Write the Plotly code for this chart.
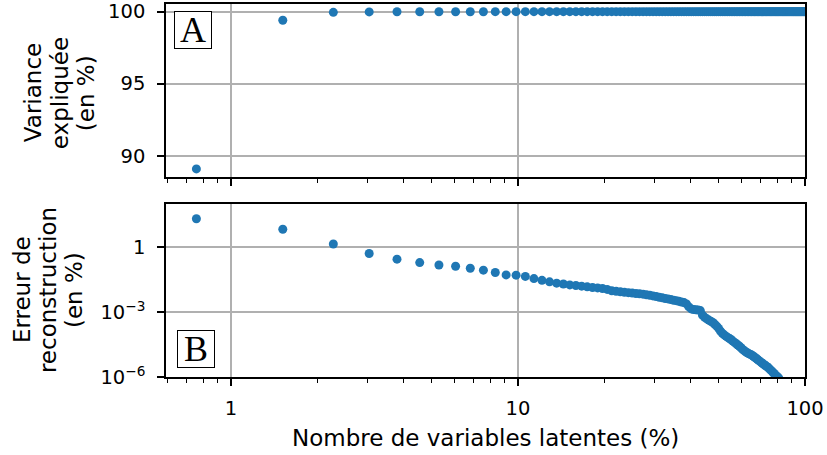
import plotly.graph_objects as go
from plotly.subplots import make_subplots

# ---- data ----
n_total = 132
n_latent = list(range(1, 133))  # number of latent variables kept

variance_pct = [
    89.08, 99.40, 99.95, 99.98, 99.99, 99.99, 99.99, 99.99, 99.99, 99.99,
    100.0, 100.0, 100.0, 100.0, 100.0, 100.0, 100.0, 100.0, 100.0, 100.0,
    100.0, 100.0, 100.0, 100.0, 100.0, 100.0, 100.0, 100.0, 100.0, 100.0,
    100.0, 100.0, 100.0, 100.0, 100.0, 100.0, 100.0, 100.0, 100.0, 100.0,
    100.0, 100.0, 100.0, 100.0, 100.0, 100.0, 100.0, 100.0, 100.0, 100.0,
    100.0, 100.0, 100.0, 100.0, 100.0, 100.0, 100.0, 100.0, 100.0, 100.0,
    100.0, 100.0, 100.0, 100.0, 100.0, 100.0, 100.0, 100.0, 100.0, 100.0,
    100.0, 100.0, 100.0, 100.0, 100.0, 100.0, 100.0, 100.0, 100.0, 100.0,
    100.0, 100.0, 100.0, 100.0, 100.0, 100.0, 100.0, 100.0, 100.0, 100.0,
    100.0, 100.0, 100.0, 100.0, 100.0, 100.0, 100.0, 100.0, 100.0, 100.0,
    100.0, 100.0, 100.0, 100.0, 100.0, 100.0, 100.0, 100.0, 100.0, 100.0,
    100.0, 100.0, 100.0, 100.0, 100.0, 100.0, 100.0, 100.0, 100.0, 100.0,
    100.0, 100.0, 100.0, 100.0, 100.0, 100.0, 100.0, 100.0, 100.0, 100.0,
    100.0, 100.0,
]

# reconstruction error (in %), given as log10 exponents, for the visible points
erreur_log10 = [
    1.32, 0.83, 0.15, -0.29, -0.55, -0.71, -0.82, -0.88, -0.97, -1.06,
    -1.17, -1.28, -1.29, -1.35, -1.45, -1.53, -1.60, -1.66, -1.70, -1.74,
    -1.77, -1.80, -1.83, -1.86, -1.88, -1.91, -1.95, -2.01, -2.04, -2.06,
    -2.08, -2.10, -2.12, -2.14, -2.15, -2.17, -2.20, -2.22, -2.25, -2.28,
    -2.31, -2.34, -2.37, -2.39, -2.42, -2.45, -2.47, -2.50, -2.53, -2.56,
    -2.62, -2.76, -2.85, -2.88, -2.89, -2.90, -2.93, -3.14, -3.24, -3.31,
    -3.37, -3.42, -3.48, -3.56, -3.65, -3.75, -3.88, -3.98, -4.05, -4.11,
    -4.17, -4.22, -4.28, -4.34, -4.40, -4.46, -4.52, -4.58, -4.65, -4.72,
    -4.78, -4.83, -4.88, -4.92, -4.95, -4.98, -5.03, -5.08, -5.12, -5.18,
    -5.23, -5.28, -5.33, -5.38, -5.42, -5.47, -5.51, -5.55, -5.61, -5.67,
    -5.72, -5.78, -5.84, -5.90, -5.95, -6.00, -6.06,
]

x_major = [1, 10, 100]
x_major_text = ["1", "10", "100"]
x_minor = [0.6, 0.7, 0.8, 0.9, 2, 3, 4, 5, 6, 7, 8, 9,
           20, 30, 40, 50, 60, 70, 80, 90]
y_top_ticks = [90, 95, 100]
y_bot_ticks = [1e-6, 1e-3, 1]
y_bot_text = ["10<sup>\u22126</sup>", "10<sup>\u22123</sup>", "1"]

title_top_lines = ["Variance", "expliquée", "(en %)"]
title_bot_lines = ["Erreur de", "reconstruction", "(en %)"]
title_x = "Nombre de variables latentes (%)"

# ---- derived ----
latent_pct = [100.0 * k / n_total for k in n_latent]
erreur_pct = [10 ** v for v in erreur_log10]

BLUE = "#1f77b4"
FONT = "DejaVu Sans"
FS = 19.5
FS_T = 23

fig = make_subplots(rows=2, cols=1, shared_xaxes=False, vertical_spacing=0.0)

fig.add_trace(go.Scatter(x=latent_pct, y=variance_pct, mode="markers",
                         marker=dict(color=BLUE, size=9, line=dict(width=0)),
                         showlegend=False), row=1, col=1)
fig.add_trace(go.Scatter(x=latent_pct[:len(erreur_pct)], y=erreur_pct, mode="markers",
                         marker=dict(color=BLUE, size=9, line=dict(width=0)),
                         showlegend=False), row=2, col=1)

common_axis = dict(
    showline=True, linecolor="black", linewidth=1.5, mirror=True,
    ticks="outside", ticklen=7, tickwidth=1.5, tickcolor="black",
    showgrid=True, gridcolor="#b0b0b0", gridwidth=1.5,
    zeroline=False, tickfont=dict(family=FONT, size=FS, color="black"),
)

xaxis_common = dict(
    common_axis, type="log", range=[-0.2265, 2.0],
    tickmode="array", tickvals=x_major, ticktext=x_major_text,
    minor=dict(tickmode="array", tickvals=x_minor, ticks="outside",
               ticklen=4, tickwidth=1.2, tickcolor="black", showgrid=False),
)

fig.update_layout(
    width=827, height=455,
    margin=dict(l=166, r=22, t=4, b=78, autoexpand=False),
    paper_bgcolor="white", plot_bgcolor="white",
    font=dict(family=FONT, size=FS, color="black"),
    xaxis=dict(xaxis_common, domain=[0, 1], anchor="y", showticklabels=False),
    xaxis2=dict(xaxis_common, domain=[0, 1], anchor="y2", ticklabelstandoff=6),
    yaxis=dict(common_axis, domain=[0.5362, 1.0], range=[88.52, 100.53],
               tickmode="array", tickvals=y_top_ticks, ticklabelstandoff=8),
    yaxis2=dict(common_axis, domain=[0.0, 0.4638], type="log", range=[-6, 2.0],
                tickmode="array", tickvals=y_bot_ticks, ticktext=y_bot_text,
                ticklabelstandoff=8),
)

L = 166  # left margin in px; used to place title lines by pixel offset


def add_vtitle(lines, xs_px, y_paper):
    for txt, xp in zip(lines, xs_px):
        fig.add_annotation(text=txt, xref="paper", yref="paper",
                           x=0, y=y_paper, xshift=xp - L,
                           xanchor="center", yanchor="middle",
                           textangle=-90, showarrow=False,
                           font=dict(family=FONT, size=FS_T, color="black"))


add_vtitle(title_top_lines, [33, 60, 86], 0.761)
add_vtitle(title_bot_lines, [22, 48, 74], 0.233)

fig.add_annotation(text=title_x, xref="paper", yref="paper",
                   x=0.5, y=-0.1635, xanchor="center", yanchor="middle",
                   showarrow=False, font=dict(family=FONT, size=FS_T, color="black"))

# panel labels
for lab, xp, yp in [("A", 0.043, 0.929), ("B", 0.047, 0.075)]:
    fig.add_annotation(text=lab, xref="paper", yref="paper", x=xp, y=yp,
                       xanchor="center", yanchor="middle", showarrow=False,
                       width=28, height=28, borderpad=4,
                       bordercolor="black", borderwidth=1, bgcolor="white",
                       font=dict(family="Liberation Serif", size=36, color="black"))

fig.write_html("out.html", config={"displayModeBar": False},
               post_script="document.body.style.margin='0';")
